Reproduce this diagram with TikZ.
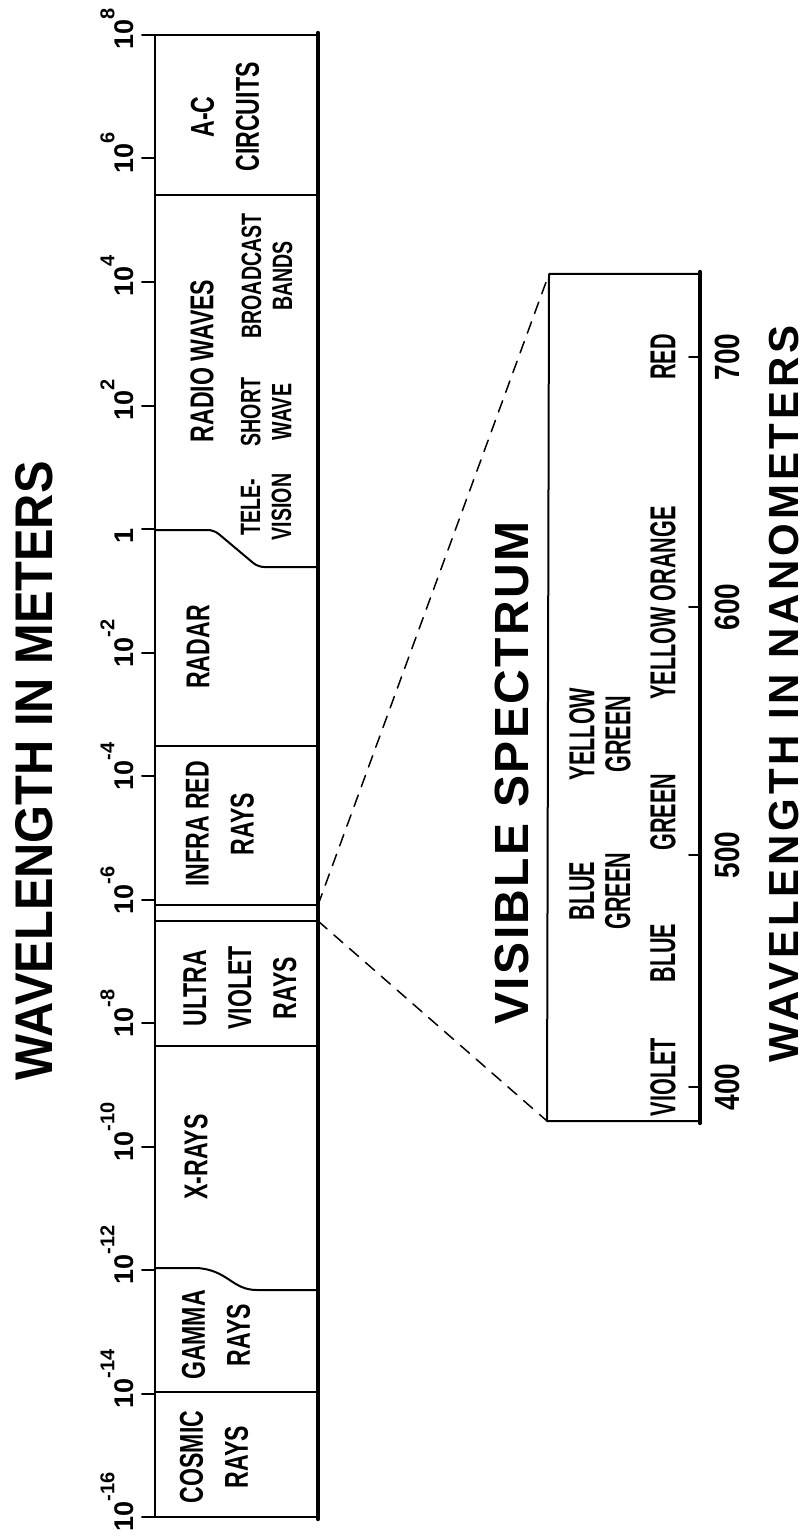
\documentclass[tikz,border=0pt]{standalone}
\usepackage{fontspec}
\setmainfont{Liberation Sans}
\newfontfamily\bandfont[FakeStretch=0.7]{Liberation Sans}
\newfontfamily\visfont[FakeStretch=0.6]{Liberation Sans}
\newfontfamily\numfont[FakeStretch=0.8]{Liberation Sans}
\newfontfamily\headfont[FakeStretch=0.92]{Liberation Sans}
\newfontfamily\spacedfont[LetterSpace=5]{Liberation Sans}
\newfontfamily\widefont[LetterSpace=9]{Liberation Sans}
\newcommand{\tenpow}[1]{10\raisebox{9.3pt}{\fontsize{10}{10}\selectfont#1}}
\tikzset{
  band/.style={rotate=90,align=center,inner sep=0pt,
    font=\bandfont\bfseries\fontsize{16.5}{22.5}\selectfont},
  bandsm/.style={band,font=\bandfont\bfseries\fontsize{14}{15.5}\selectfont},
  vislab/.style={rotate=90,align=center,inner sep=0pt,
    font=\visfont\bfseries\fontsize{18}{18}\selectfont},
  nmlab/.style={rotate=90,inner sep=0pt,
    font=\numfont\bfseries\fontsize{17.5}{18}\selectfont},
  decade/.style={rotate=90,anchor=base west,inner sep=0pt,
    font=\bfseries\fontsize{13.5}{14}\selectfont},
  heading/.style={rotate=90,inner sep=0pt},
  bar/.style={line width=1pt},
  barthick/.style={line width=2.2pt},
  guide/.style={line width=0.75pt,dash pattern=on 6pt off 4.5pt},
}
\begin{document}
\begin{tikzpicture}[x=0.5pt,y=-0.5pt,line cap=round,line join=round]
  \useasboundingbox (0,0) rectangle (811,1540);
  % main scale
  \draw[bar] (318,35) -- (155,35) -- (155,1517) -- (318,1517);
  \draw[barthick] (318,33) -- (318,1519);
  \foreach \i/\lab in {0/\tenpow{8},1/\tenpow{6},2/\tenpow{4},3/\tenpow{2},
      4/1,5/\tenpow{-2},6/\tenpow{-4},7/\tenpow{-6},8/\tenpow{-8},
      9/\tenpow{-10},10/\tenpow{-12},11/\tenpow{-14},12/\tenpow{-16}} {
    \draw[bar] (142,35+\i*123.5) -- (155,35+\i*123.5);
    \node[decade] (d\i) at (133,50+\i*123.5) {\lab};
  }
  % band boundaries
  \draw[bar] (155,195) -- (318,195);
  \draw[bar,rounded corners=3pt] (155,530) -- (214,530) -- (258,567) -- (318,567);
  \draw[bar] (155,746) -- (318,746);
  \coordinate (visA) at (318,905);
  \coordinate (visB) at (318,921);
  \draw[bar] (155,905) -- (visA);
  \draw[bar] (155,921) -- (visB);
  \draw[bar] (155,1046) -- (318,1046);
  \draw[bar] (155,1268) -- (197,1268) .. controls (228,1270) and (232,1290) .. (257,1290) -- (318,1290);
  \draw[bar] (155,1392) -- (318,1392);
  % band names
  \node[band] (ac) at (225,117) {A-C\\CIRCUITS};
  \node[band] (radio) at (202,361) {RADIO WAVES};
  \node[bandsm] (bcast) at (267,276) {BROADCAST\\BANDS};
  \node[bandsm] (short) at (266,412) {SHORT\\WAVE};
  \node[bandsm] (tv) at (266,507) {TELE-\\VISION};
  \node[band] (radar) at (198,647) {RADAR};
  \node[band] (ir) at (220,824) {INFRA RED\\RAYS};
  \node[band] (uv) at (240,988) {ULTRA\\VIOLET\\RAYS};
  \node[band] (xray) at (196,1157) {X-RAYS};
  \node[band] (gamma) at (216,1335) {GAMMA\\RAYS};
  \node[band] (cosmic) at (214,1457) {COSMIC\\RAYS};
  \node[heading,font=\headfont\bfseries\fontsize{26.5}{27}\selectfont] (title) at (34,771) {WAVELENGTH IN METERS};
  % visible spectrum
  \coordinate (boxNW) at (549,274);
  \coordinate (boxSW) at (547,1121);
  \draw[bar] (700,274) -- (boxNW) -- (boxSW) -- (700,1121);
  \draw[barthick] (700,272) -- (700,1123);
  \draw[guide] (visA) -- (boxNW);
  \draw[guide] (visB) -- (boxSW);
  \foreach \y/\nm in {1087/400,855/500,607/600,357/700} {
    \draw[bar] (689,\y) -- (700,\y);
    \node[nmlab] (n\nm) at (727,\y) {\nm};
  }
  \node[vislab] (violet) at (663,1077) {VIOLET};
  \node[vislab] (blue) at (663,953) {BLUE};
  \node[vislab] (green) at (663,812) {GREEN};
  \node[vislab] (yorange) at (663,603) {YELLOW ORANGE};
  \node[vislab] (red) at (663,357) {RED};
  \node[vislab] (bgreen) at (600,891) {BLUE\\GREEN};
  \node[vislab] (ygreen) at (600,734) {YELLOW\\GREEN};
  \node[heading,font=\spacedfont\bfseries\fontsize{24}{24}\selectfont] (vistitle) at (512,773) {VISIBLE SPECTRUM};
  \node[heading,font=\widefont\bfseries\fontsize{21}{21}\selectfont] (nmtitle) at (784,694) {WAVELENGTH IN NANOMETERS};
\end{tikzpicture}
\end{document}
